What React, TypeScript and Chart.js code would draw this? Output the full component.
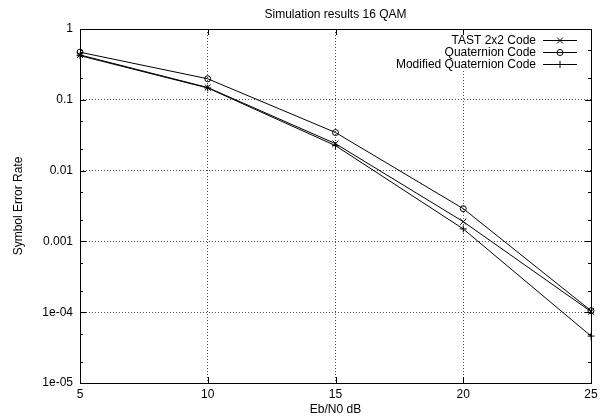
import React, { useEffect, useRef } from "react";
import { Chart, registerables } from "chart.js";

Chart.register(...registerables);

const xValues = [5, 10, 15, 20, 25];
const tastValues = [0.43, 0.149, 0.024, 0.0019, 1.02e-4];
const quaternionValues = [0.47, 0.198, 0.0345, 0.0029, 1.05e-4];
const modifiedValues = [0.42, 0.147, 0.0225, 0.0015, 4.6e-5];
const seriesLabels = ["TAST 2x2 Code", "Quaternion Code", "Modified Quaternion Code"];
const yTickValues = [1e-5, 1e-4, 1e-3, 1e-2, 1e-1, 1];
const yTickLabels = ["1e-05", "1e-04", "0.001", "0.01", "0.1", "1"];
const yMinorFactors = [2, 5];
const xTickValues = [5, 10, 15, 20, 25];

const FONT = "'Liberation Sans', Arial, sans-serif";

function drawMarker(ctx: CanvasRenderingContext2D, style: string, x: number, y: number) {
  ctx.beginPath();
  if (style === "crossRot") {
    const r = 3;
    ctx.moveTo(x - r, y - r);
    ctx.lineTo(x + r, y + r);
    ctx.moveTo(x - r, y + r);
    ctx.lineTo(x + r, y - r);
  } else if (style === "circle") {
    ctx.arc(x, y, 3, 0, Math.PI * 2);
  } else {
    const r = 3.5;
    ctx.moveTo(x - r, y);
    ctx.lineTo(x + r, y);
    ctx.moveTo(x, y - r);
    ctx.lineTo(x, y + r);
  }
  ctx.stroke();
}

const gnuplotPlugin = {
  id: "gnuplotDecor",
  beforeDatasetsDraw(chart: any) {
    const { ctx, chartArea } = chart;
    const { left, right, top, bottom } = chartArea;
    const xs = chart.scales.x;
    const ys = chart.scales.y;
    ctx.save();
    ctx.strokeStyle = "#000";
    ctx.lineWidth = 1;
    const tick = (y: number, len: number) => {
      ctx.beginPath();
      ctx.moveTo(left, y);
      ctx.lineTo(left + len, y);
      ctx.moveTo(right, y);
      ctx.lineTo(right - len, y);
      ctx.stroke();
    };
    yTickValues.forEach((v) => tick(Math.round(ys.getPixelForValue(v)) + 0.5, 6));
    yTickValues.slice(0, -1).forEach((v) => {
      yMinorFactors.forEach((f) => tick(Math.round(ys.getPixelForValue(v * f)) + 0.5, 3));
    });
    xTickValues.forEach((v) => {
      const x = Math.round(xs.getPixelForValue(v)) + 0.5;
      ctx.beginPath();
      ctx.moveTo(x, bottom);
      ctx.lineTo(x, bottom - 6);
      ctx.moveTo(x, top);
      ctx.lineTo(x, top + 6);
      ctx.stroke();
    });
    // legend
    const rowY0 = top + 11;
    const rowH = 11.8;
    ctx.fillStyle = "#fff";
    ctx.fillRect(right - 196, top + 6, 186, 36);
    ctx.fillStyle = "#000";
    ctx.font = "12px " + FONT;
    ctx.textAlign = "right";
    ctx.textBaseline = "middle";
    chart.data.datasets.forEach((ds: any, i: number) => {
      const y = Math.round(rowY0 + i * rowH) + 0.5;
      ctx.fillText(ds.label, right - 55, y);
      ctx.beginPath();
      ctx.moveTo(right - 48, y);
      ctx.lineTo(right - 14, y);
      ctx.stroke();
      drawMarker(ctx, ds.pointStyle, right - 31, y);
    });
    ctx.strokeRect(Math.round(left) + 0.5, Math.round(top) + 0.5, Math.round(right - left), Math.round(bottom - top));
    ctx.restore();
  },
};

export default function App() {
  const ref = useRef<HTMLCanvasElement | null>(null);
  useEffect(() => {
    document.body.style.margin = "0";
    const canvas = ref.current;
    if (!canvas) return;
    const mk = (label: string, data: number[], style: string) => ({
      label,
      data: xValues.map((x, i) => ({ x, y: data[i] })),
      borderColor: "#000",
      backgroundColor: "rgba(0,0,0,0)",
      borderWidth: 1,
      pointStyle: style,
      pointRadius: style === "crossRot" ? 4.2 : style === "circle" ? 3 : 3.5,
      pointBorderColor: "#000",
      pointBackgroundColor: "rgba(0,0,0,0)",
      pointBorderWidth: 1,
      tension: 0,
      fill: false,
      clip: false,
    });
    const chart = new Chart(canvas, {
      type: "line",
      data: {
        datasets: [
          mk(seriesLabels[0], tastValues, "crossRot"),
          mk(seriesLabels[1], quaternionValues, "circle"),
          mk(seriesLabels[2], modifiedValues, "cross"),
        ],
      },
      options: {
        animation: false,
        responsive: false,
        maintainAspectRatio: false,
        layout: { padding: { left: 0, right: 17, top: 0, bottom: 0 } },
        plugins: {
          legend: { display: false },
          tooltip: { enabled: false },
          title: {
            display: true,
            text: "Simulation results 16 QAM",
            fullSize: false,
            color: "#000",
            font: { family: FONT, size: 12, weight: "normal" },
            padding: { top: 7, bottom: 7.6 },
          },
        },
        scales: {
          x: {
            type: "linear",
            min: 5,
            max: 25,
            afterBuildTicks: (scale: any) => {
              scale.ticks = xTickValues.map((v) => ({ value: v }));
            },
            afterFit: (scale: any) => {
              scale.height = 34;
            },
            grid: {
              color: "rgba(0,0,0,0.7)",
              lineWidth: 1,
              drawTicks: false,
            },
            border: { display: false, dash: [1, 2] },
            ticks: {
              color: "#000",
              font: { family: FONT, size: 12 },
              padding: 4,
              maxRotation: 0,
              callback: (v: any) => String(v),
            },
            title: {
              display: true,
              text: "Eb/N0 dB",
              color: "#000",
              font: { family: FONT, size: 12 },
              padding: { top: 0, bottom: 0 },
            },
          },
          y: {
            type: "logarithmic",
            min: 1e-5,
            max: 1,
            afterBuildTicks: (scale: any) => {
              scale.ticks = yTickValues.map((v) => ({ value: v, major: true }));
            },
            afterFit: (scale: any) => {
              scale.width = 80;
            },
            grid: {
              color: "rgba(0,0,0,0.7)",
              lineWidth: 1,
              drawTicks: false,
            },
            border: { display: false, dash: [1, 2] },
            ticks: {
              color: "#000",
              font: { family: FONT, size: 12 },
              padding: 7,
              autoSkip: false,
              callback: (v: any) => {
                const idx = yTickValues.findIndex((t) => Math.abs(Math.log10(t) - Math.log10(v)) < 1e-6);
                return idx >= 0 ? yTickLabels[idx] : "";
              },
            },
            title: {
              display: true,
              text: "Symbol Error Rate",
              color: "#000",
              font: { family: FONT, size: 12 },
              padding: { top: 11, bottom: 11 },
            },
          },
        },
      },
      plugins: [gnuplotPlugin],
    } as any);
    return () => chart.destroy();
  }, []);
  return <canvas ref={ref} width={608} height={417} style={{ display: "block", width: 608, height: 417 }} />;
}
